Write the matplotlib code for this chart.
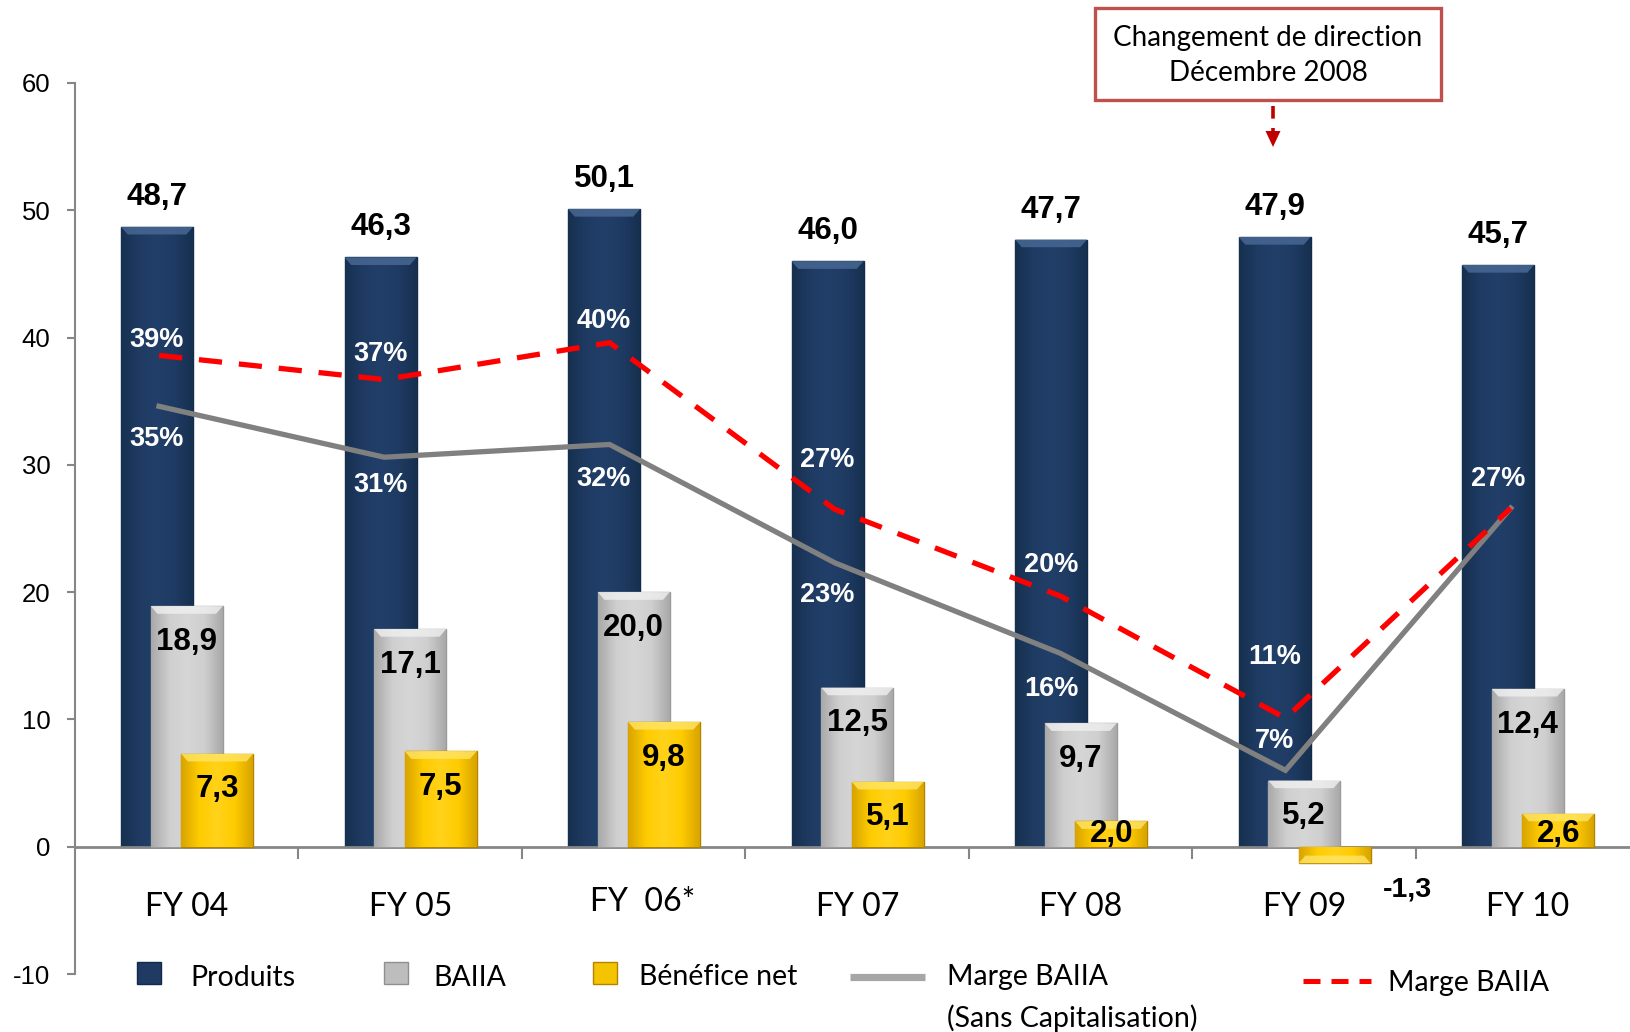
import numpy as np
import matplotlib.pyplot as plt
from matplotlib.colors import LinearSegmentedColormap
from matplotlib.patches import Rectangle, Polygon
from matplotlib.lines import Line2D

plt.rcParams["axes.unicode_minus"] = False

# data
years = ["FY 04", "FY 05", "FY  06*", "FY 07", "FY 08", "FY 09", "FY 10"]
produits = [48.7, 46.3, 50.1, 46.0, 47.7, 47.9, 45.7]
baiia = [18.9, 17.1, 20.0, 12.5, 9.7, 5.2, 12.4]
benefice = [7.3, 7.5, 9.8, 5.1, 2.0, -1.3, 2.6]
marge_sans_cap = [34.6, 30.6, 31.6, 22.3, 15.2, 6.0, 26.6]
marge = [38.6, 36.7, 39.6, 26.5, 19.7, 10.1, 26.6]
marge_sans_cap_lbl = ["35%", "31%", "32%", "23%", "16%", "7%", ""]
marge_lbl = ["39%", "37%", "40%", "27%", "20%", "11%", "27%"]

# label placement (data units)
marge_lbl_y = [39.8, 38.7, 41.3, 30.4, 22.1, 14.9, 28.9]
marge_sc_lbl_y = [32.0, 28.4, 28.9, 19.8, 12.4, 8.3, 0]

W, H = 1631, 1032
fig = plt.figure(figsize=(W / 100, H / 100), dpi=100)
ax = fig.add_axes([75 / W, 1 - 974 / H, (1639.5 - 75) / W, (974 - 83) / H])

ARIAL = "Liberation Sans"
CALIBRI = "Lato"

x = np.arange(len(years))
bw = 0.322
off = [-0.133, 0.0, 0.136]

navy_cm = LinearSegmentedColormap.from_list("n", ["#16304f", "#1f3b63", "#213f69", "#1f3b63", "#16304f"])
grey_cm = LinearSegmentedColormap.from_list("g", ["#a9a9a9", "#cfcfcf", "#d6d6d6", "#cfcfcf", "#a9a9a9"])
yell_cm = LinearSegmentedColormap.from_list("y", ["#d9a400", "#ffcc00", "#ffd21a", "#ffcc00", "#d9a400"])
grad = np.linspace(0, 1, 64).reshape(1, -1)


def fancy_bars(xs, vals, cmap, edge, top_col, z):
    bars = ax.bar(xs, vals, bw, color=cmap(0.5), edgecolor=edge, lw=1.0, zorder=z)
    for b, v in zip(bars, vals):
        x0, x1 = b.get_x(), b.get_x() + b.get_width()
        y0, y1 = min(0, v), max(0, v)
        im = ax.imshow(grad, extent=[x0, x1, y0, y1], cmap=cmap, aspect="auto",
                       zorder=z, interpolation="bicubic")
        im.set_clip_path(b)
        # top bevel
        tb = 0.6 if v > 0 else -0.6
        d = 0.03
        ax.add_patch(Polygon([(x0, v), (x1, v), (x1 - d, v - tb), (x0 + d, v - tb)],
                             closed=True, facecolor=top_col, edgecolor="none",
                             alpha=0.8, zorder=z + 0.1))
    return bars


fancy_bars(x + off[0], produits, navy_cm, "#14294a", "#4a6a96", 2)
fancy_bars(x + off[1], baiia, grey_cm, "#9a9a9a", "#f0f0f0", 3)
fancy_bars(x + off[2], benefice, yell_cm, "#b08400", "#ffe566", 4)

# lines (secondary-axis style positions)
xl = -0.124 + 1.008 * x
ax.plot(xl, marge_sans_cap, color="#808080", lw=3.8, zorder=6, solid_joinstyle="miter")
ax.plot(xl, marge, color="#ff0000", lw=3.8, zorder=7, dashes=(4.4, 3.2))

# value labels
for i in range(len(years)):
    ax.text(x[i] + off[0], produits[i] + 2.35, f"{produits[i]:.1f}".replace(".", ","),
            ha="center", va="center", fontsize=22.5, fontweight="bold", family=ARIAL, zorder=10)
    ax.text(x[i] + off[1], max(baiia[i] - 2.8, 1.0), f"{baiia[i]:.1f}".replace(".", ","),
            ha="center", va="center", fontsize=22.5, fontweight="bold", family=ARIAL, zorder=10)
    if benefice[i] > 0:
        ax.text(x[i] + off[2], max(benefice[i] - 2.8, 1.0), f"{benefice[i]:.1f}".replace(".", ","),
                ha="center", va="center", fontsize=22.5, fontweight="bold", family=ARIAL, zorder=10)
    else:
        ax.text(x[i] + 0.46, -3.4, f"{benefice[i]:.1f}".replace(".", ","),
                ha="center", va="center", fontsize=20.5, fontweight="bold", family=ARIAL, zorder=10)
    ax.text(x[i] + off[0], marge_lbl_y[i], marge_lbl[i], ha="center", va="center",
            fontsize=19.5, fontweight="bold", color="white", family=ARIAL, zorder=10)
    if marge_sans_cap_lbl[i]:
        ax.text(x[i] + off[0], marge_sc_lbl_y[i], marge_sans_cap_lbl[i], ha="center", va="center",
                fontsize=19.5, fontweight="bold", color="white", family=ARIAL, zorder=10)
    dx = 0.04 if "*" in years[i] else 0
    yy = -4.34 if "*" in years[i] else -4.74
    ax.text(x[i] + dx, yy, years[i], ha="center", va="center", fontsize=23, family=CALIBRI)

ax.set_xlim(-0.5, 6.5)
ax.set_ylim(-10, 60)
ax.set_yticks(range(-10, 61, 10))
ax.set_xticks(np.arange(0.5, 6, 1))
ax.set_xticklabels([])
for s in ["top", "right"]:
    ax.spines[s].set_visible(False)
ax.spines["left"].set_color("#868686")
ax.spines["left"].set_linewidth(1.5)
ax.spines["bottom"].set_position(("data", 0))
ax.spines["bottom"].set_color("#868686")
ax.spines["bottom"].set_linewidth(2)
ax.tick_params(axis="y", direction="out", length=5.8, width=1.5, color="#868686",
               pad=12, labelsize=18.5)
ax.tick_params(axis="x", direction="out", length=8.6, width=1.5, color="#868686")
for t in ax.get_yticklabels():
    t.set_family(ARIAL)


def fx(px):
    return px / W


def fy(py):
    return 1 - py / H


# legend drawn in figure pixels
for x0, col, ed in [(137, "#1f3b63", "#14294a"), (384, "#bdbdbd", "#8f8f8f"), (593, "#f5c400", "#b08400")]:
    fig.add_artist(Rectangle((fx(x0), fy(984)), 24 / W, 22 / H, transform=fig.transFigure,
                             facecolor=col, edgecolor=ed, lw=1))
fig.add_artist(Line2D([fx(850), fx(925)], [fy(977), fy(977)], transform=fig.transFigure,
                      color="#a6a6a6", lw=5.2, solid_capstyle="butt"))
fig.add_artist(Line2D([fx(1303), fx(1371)], [fy(981), fy(981)], transform=fig.transFigure,
                      color="#ff0000", lw=3.6, dashes=(3.4, 2.2), dash_capstyle="butt"))
leg_txt = [(190, 978, "Produits"), (433, 978, "BAIIA"), (639, 977, "Bénéfice net"),
           (947, 977, "Marge BAIIA"), (947, 1018, "(Sans Capitalisation)"), (1388, 983, "Marge BAIIA")]
for px_, py_, s in leg_txt:
    fig.text(fx(px_), fy(py_), s, ha="left", va="center", fontsize=20.5, family=CALIBRI)

# annotation box
fig.add_artist(Rectangle((fx(1095), fy(100)), (1441 - 1095) / W, (100 - 8) / H,
                         transform=fig.transFigure, facecolor="white", edgecolor="#c0504d", lw=2.4))
fig.text(fx(1268), fy(38), "Changement de direction", ha="center", va="center",
         fontsize=20, family=CALIBRI)
fig.text(fx(1268), fy(73), "Décembre 2008", ha="center", va="center",
         fontsize=20, family=CALIBRI)
fig.add_artist(Line2D([fx(1273), fx(1273)], [fy(106), fy(132)], transform=fig.transFigure,
                      color="#c00000", lw=2.6, dashes=(3.5, 2.6)))
fig.add_artist(Polygon([(fx(1265.5), fy(131)), (fx(1280.5), fy(131)), (fx(1273), fy(147))],
                       closed=True, transform=fig.transFigure, facecolor="#c00000", edgecolor="none"))

fig.savefig("out.png", dpi=100)
